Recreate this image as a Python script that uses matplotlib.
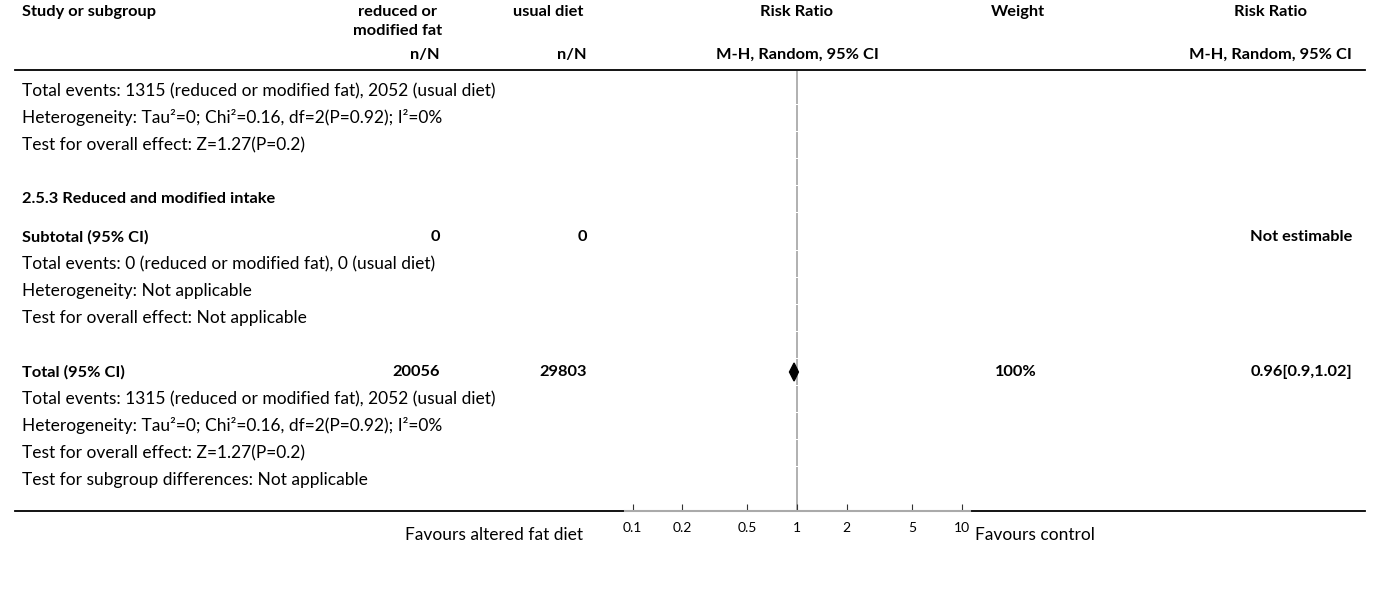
import numpy as np
import matplotlib.pyplot as plt
from matplotlib.patches import Polygon

plt.rcParams['font.family'] = ['Lato', 'DejaVu Sans']

# column headers
hdr_top = ['Study or subgroup', 'reduced or\nmodified fat', 'usual diet', 'Risk Ratio', 'Weight', 'Risk Ratio']
hdr_sub = ['n/N', 'n/N', 'M-H, Random, 95% CI', 'M-H, Random, 95% CI']

# body rows: text, bold
rows = [
    ('Total events: 1315 (reduced or modified fat), 2052 (usual diet)', False),
    ('Heterogeneity: Tau\u00b2=0; Chi\u00b2=0.16, df=2(P=0.92); I\u00b2=0%', False),
    ('Test for overall effect: Z=1.27(P=0.2)', False),
    ('', False),
    ('2.5.3 Reduced and modified intake', True),
    ('Subtotal (95% CI)', True),
    ('Total events: 0 (reduced or modified fat), 0 (usual diet)', False),
    ('Heterogeneity: Not applicable', False),
    ('Test for overall effect: Not applicable', False),
    ('', False),
    ('Total (95% CI)', True),
    ('Total events: 1315 (reduced or modified fat), 2052 (usual diet)', False),
    ('Heterogeneity: Tau\u00b2=0; Chi\u00b2=0.16, df=2(P=0.92); I\u00b2=0%', False),
    ('Test for overall effect: Z=1.27(P=0.2)', False),
    ('Test for subgroup differences: Not applicable', False),
]

subtotal_n = ['0', '0']
subtotal_rr = 'Not estimable'
total_n = ['20056', '29803']
total_weight = '100%'
total_rr = 0.96
total_lo = 0.9
total_hi = 1.02
total_rr_text = '0.96[0.9,1.02]'

ticks = [0.1, 0.2, 0.5, 1, 2, 5, 10]
tick_labels = ['0.1', '0.2', '0.5', '1', '2', '5', '10']
favours_left = 'Favours altered fat diet'
favours_right = 'Favours control'

W, H = 1373, 601
fig = plt.figure(figsize=(W / 100, H / 100), dpi=100)
bg = fig.add_axes([0, 0, 1, 1])
bg.set_xlim(0, W)
bg.set_ylim(H, 0)
bg.axis('off')

fs = 11.8    # bold text
fs_n = 12.5  # plain body text
bkw = dict(fontsize=fs, weight='bold', va='center')
# header
bg.text(22, 12, hdr_top[0], **bkw)
bg.text(398, 12, 'reduced or', ha='center', **bkw)
bg.text(398, 31, 'modified fat', ha='center', **bkw)
bg.text(548, 12, hdr_top[2], ha='center', **bkw)
bg.text(797, 12, hdr_top[3], ha='center', **bkw)
bg.text(1018, 12, hdr_top[4], ha='center', **bkw)
bg.text(1270, 12, hdr_top[5], ha='center', **bkw)
bg.text(440, 55, hdr_sub[0], ha='right', **bkw)
bg.text(587, 55, hdr_sub[1], ha='right', **bkw)
bg.text(797, 55, hdr_sub[2], ha='center', **bkw)
bg.text(1352, 55, hdr_sub[3], ha='right', **bkw)

bg.plot([15, 1365], [70, 70], color='black', lw=1.3)
bg.plot([15, 1365], [511, 511], color='black', lw=1.3)

y0, dy = 91, 27.0
ys = []
y = y0
for txt, bold in rows:
    ys.append(y)
    if txt:
        if bold:
            bg.text(22, y, txt, **bkw)
        else:
            bg.text(22, y, txt, fontsize=fs_n, va='center')
    y += dy
    if txt == '2.5.3 Reduced and modified intake':
        y += 11

y_sub = ys[5]
y_tot = ys[10]
bg.text(440, y_sub, subtotal_n[0], ha='right', **bkw)
bg.text(587, y_sub, subtotal_n[1], ha='right', **bkw)
bg.text(1352, y_sub, subtotal_rr, ha='right', **bkw)
bg.text(440, y_tot, total_n[0], ha='right', **bkw)
bg.text(587, y_tot, total_n[1], ha='right', **bkw)
bg.text(1037, y_tot, total_weight, ha='right', **bkw)
bg.text(1352, y_tot, total_rr_text, ha='right', **bkw)

bg.text(583, 535, favours_left, fontsize=fs_n, va='center', ha='right')
bg.text(975, 535, favours_right, fontsize=fs_n, va='center', ha='left')

# forest axis: pixel x = 797 + 164.5*log10(v)
px0, px1 = 625, 970
top, bot = 70, 511
ax = fig.add_axes([px0 / W, (H - bot) / H, (px1 - px0) / W, (bot - top) / H])
ax.set_xscale('log')
ax.set_xlim(10 ** ((px0 - 797) / 164.5), 10 ** ((px1 - 797) / 164.5))
ax.set_ylim(bot, top)
ax.patch.set_alpha(0)
for s in ['top', 'left', 'right']:
    ax.spines[s].set_visible(False)
ax.spines['bottom'].set_color('#aaaaaa')
ax.spines['bottom'].set_linewidth(1.5)
ax.set_yticks([])
ax.set_xticks(ticks)
ax.set_xticklabels(tick_labels)
ax.minorticks_off()
ax.tick_params(axis='x', direction='in', length=5, color='#333333', labelsize=10, pad=8)

# line of no effect, broken slightly at each row boundary
edges = [top] + [yy + dy / 2 for yy in ys[:-1]] + [bot]
for a, b in zip(edges[:-1], edges[1:]):
    ax.plot([1, 1], [a + 0.6, b - 0.6], color='#aaaaaa', lw=1.3, zorder=1, solid_capstyle='butt')

h = 9
ax.add_patch(Polygon([[total_lo, y_tot], [total_rr, y_tot - h], [total_hi, y_tot], [total_rr, y_tot + h]],
                     closed=True, color='black', zorder=3))

fig.savefig('out.png', dpi=100)
